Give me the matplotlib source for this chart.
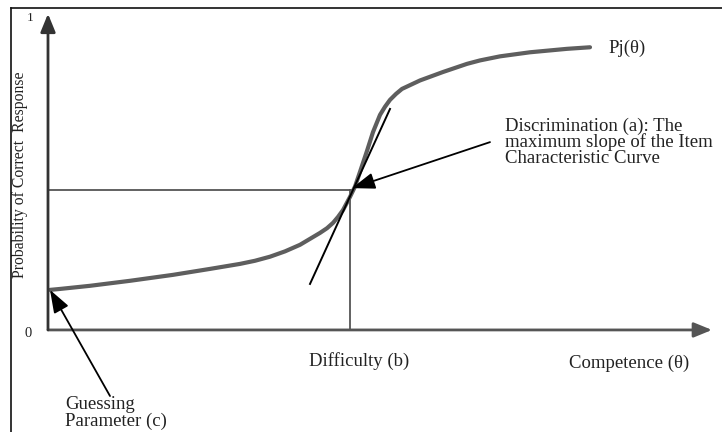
import matplotlib
matplotlib.use("Agg")
import matplotlib.pyplot as plt
from matplotlib.lines import Line2D

# item characteristic curve (theta, probability)
theta = [-3.00, -2.90, -2.60, -2.20, -1.77, -1.40, -1.10, -0.95, -0.80, -0.65,
         -0.50, -0.40, -0.30, -0.23, -0.17, -0.12, -0.07, 0.00, 0.05, 0.10,
         0.17, 0.23, 0.30, 0.35, 0.40, 0.46, 0.52, 0.70, 0.93, 1.17, 1.30,
         1.50, 1.80, 2.17, 2.40]
prob = [0.128, 0.131, 0.141, 0.157, 0.176, 0.195, 0.211, 0.221, 0.234, 0.251,
        0.272, 0.291, 0.310, 0.325, 0.342, 0.361, 0.383, 0.425, 0.458, 0.505,
        0.572, 0.632, 0.687, 0.713, 0.735, 0.754, 0.770, 0.797, 0.824, 0.850,
        0.861, 0.874, 0.887, 0.898, 0.903]

# tangent at the point of maximum slope
tangent_theta = [-0.40, 0.40]
tangent_prob = [0.147, 0.706]

difficulty = 0.0
p_at_b = 0.447
guessing = 0.128
x_left, x_right = -3.02, 3.62
y_top = 1.01

ink = "#555555"
txt = "#222222"
serif = ["Liberation Serif", "DejaVu Serif"]

fig = plt.figure(figsize=(7.22, 4.32), dpi=100)
ax = fig.add_axes([0, 0, 1, 1])
ax.set_xlim(-3.5, 3.72)
ax.set_ylim(-0.326, 1.054)
ax.axis("off")

# page frame (top and left edges)
fig.add_artist(Line2D([11 / 722, 1], [1 - 8 / 432] * 2, color="#111111", lw=1.2))
fig.add_artist(Line2D([11 / 722] * 2, [0, 1 - 8 / 432], color="#111111", lw=1.2))

# axes with arrow heads
arrow = dict(arrowstyle="-|>,head_length=1.1,head_width=0.45", color="black",
             lw=2, shrinkA=0, shrinkB=0)
ax.annotate("", xy=(x_right, 0), xytext=(x_left, 0),
            arrowprops=dict(arrow, color=ink))
ax.annotate("", xy=(x_left, y_top), xytext=(x_left, 0),
            arrowprops=dict(arrow, color="#333333"))

# guides for difficulty
ax.plot([x_left, difficulty + 0.02], [p_at_b, p_at_b], color=ink, lw=1.3)
ax.plot([difficulty, difficulty], [0, p_at_b], color=ink, lw=1.3)

# the curve and its tangent
ax.plot(theta, prob, color="#5e5e5e", lw=3, solid_capstyle="round",
        solid_joinstyle="round")
ax.plot(tangent_theta, tangent_prob, color="black", lw=1.4)

# annotation arrows
pointer = dict(arrowstyle="-|>,head_length=1.4,head_width=0.5", color="black",
               lw=1.3, shrinkA=0, shrinkB=0)
ax.annotate("", xy=(0.02, 0.453), xytext=(1.40, 0.60), arrowprops=pointer)
ax.annotate("", xy=(-3.0, guessing), xytext=(-2.40, -0.211), arrowprops=pointer)

# labels
fs = 13.5
ax.text(-3.2, 0.997, "1", fontsize=9.5, family=serif, color=txt, ha="center", va="center")
ax.text(-3.22, -0.01, "0", fontsize=10.5, family=serif, color=txt, ha="center", va="center")
ax.text(2.58, 0.90, "Pj(θ)", fontsize=fs, family=serif, color=txt, va="center")
ax.text(1.55, 0.600, "Discrimination (a): The\nmaximum slope of the Item\n"
        "Characteristic Curve", fontsize=fs, family=serif, color=txt,
        va="center", linespacing=0.88)
ax.text(0.09, -0.10, "Difficulty (b)", fontsize=fs, family=serif, color=txt,
        ha="center", va="center")
ax.text(2.79, -0.108, "Competence (θ)", fontsize=fs, family=serif, color=txt,
        ha="center", va="center")
ax.text(-2.85, -0.265, "Guessing\nParameter (c)", fontsize=fs, family=serif,
        color=txt, va="center", linespacing=0.92)
ax.text(-3.3, 0.495, "Probability of Correct  Response", fontsize=11.3, family=serif,
        color=txt, rotation=90, ha="center", va="center")

fig.savefig("out.png", dpi=100)
